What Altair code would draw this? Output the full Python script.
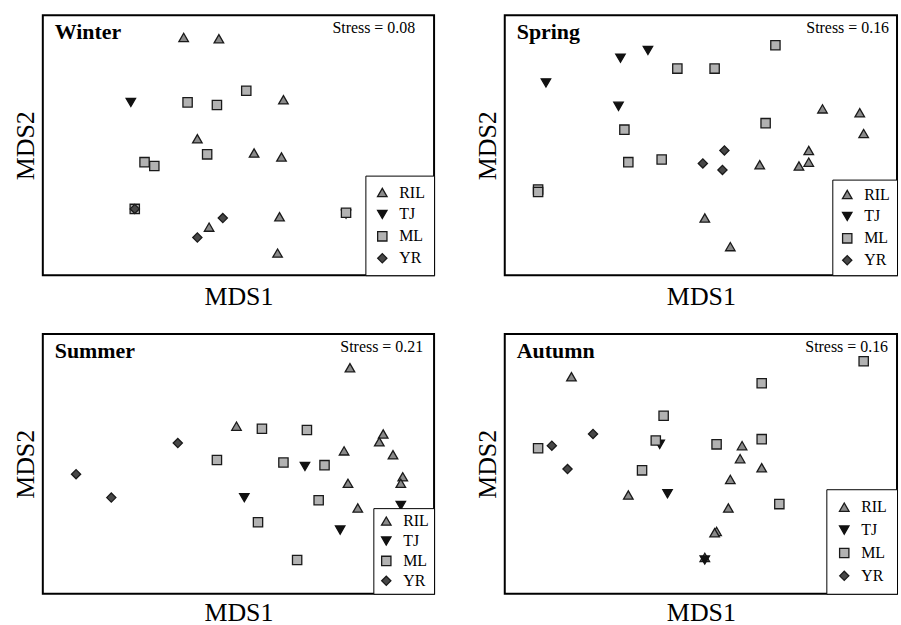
import altair as alt
import pandas as pd

SERIF = "Liberation Serif"

seasons = ["Winter", "Spring", "Summer", "Autumn"]
stress_labels = ["Stress = 0.08", "Stress = 0.16", "Stress = 0.21", "Stress = 0.16"]
groups = ["RIL", "TJ", "ML", "YR"]

# NMDS scores (MDS1, MDS2)
winter_ril = [(-0.28, 0.83), (-0.10, 0.82), (0.23, 0.35), (-0.21, 0.05), (0.08, -0.06),
              (0.22, -0.09), (0.21, -0.55), (-0.15, -0.63), (0.20, -0.83)]
winter_tj = [(-0.55, 0.33), (0.55, -0.53)]
winter_ml = [(0.04, 0.42), (-0.26, 0.33), (-0.11, 0.31), (-0.16, -0.07), (-0.48, -0.13),
             (-0.43, -0.16), (-0.53, -0.49), (0.55, -0.52)]
winter_yr = [(-0.53, -0.49), (-0.08, -0.56), (-0.21, -0.71)]

spring_ril = [(0.62, 0.28), (0.81, 0.25), (0.83, 0.09), (0.55, -0.04), (0.30, -0.15),
              (0.50, -0.16), (0.55, -0.13), (0.02, -0.56), (0.15, -0.78)]
spring_tj = [(-0.79, 0.48), (-0.41, 0.67), (-0.27, 0.73), (-0.42, 0.30)]
spring_ml = [(0.38, 0.77), (-0.12, 0.59), (0.07, 0.59), (0.33, 0.17), (-0.39, 0.12),
             (-0.37, -0.13), (-0.20, -0.11), (-0.83, -0.34), (-0.83, -0.36)]
spring_yr = [(0.12, -0.04), (0.01, -0.14), (0.11, -0.19)]

summer_ril = [(0.57, 0.74), (-0.01, 0.29), (0.74, 0.23), (0.72, 0.17), (0.54, 0.10),
              (0.79, 0.07), (0.84, -0.10), (0.83, -0.15), (0.56, -0.15), (0.61, -0.34)]
summer_tj = [(0.34, -0.02), (0.03, -0.26), (0.83, -0.32), (0.52, -0.51)]
summer_ml = [(0.12, 0.27), (0.35, 0.26), (-0.11, 0.03), (0.23, 0.01), (0.44, -0.01),
             (0.41, -0.28), (0.10, -0.45), (0.30, -0.74)]
summer_yr = [(-0.31, 0.16), (-0.83, -0.08), (-0.65, -0.26)]

autumn_ril = [(-0.66, 0.67), (0.21, 0.14), (0.20, 0.04), (0.31, -0.03), (0.15, -0.12),
              (-0.37, -0.24), (0.14, -0.34), (0.08, -0.52), (0.07, -0.53), (0.02, -0.72)]
autumn_tj = [(-0.21, 0.15), (-0.17, -0.23), (0.02, -0.74)]
autumn_ml = [(0.83, 0.79), (0.31, 0.62), (-0.19, 0.37), (-0.23, 0.18), (0.08, 0.15),
             (0.31, 0.19), (-0.83, 0.12), (-0.30, -0.05), (0.40, -0.31)]
autumn_yr = [(-0.55, 0.23), (-0.76, 0.14), (-0.68, -0.04)]

series = {
    "Winter": [winter_ril, winter_tj, winter_ml, winter_yr],
    "Spring": [spring_ril, spring_tj, spring_ml, spring_yr],
    "Summer": [summer_ril, summer_tj, summer_ml, summer_yr],
    "Autumn": [autumn_ril, autumn_tj, autumn_ml, autumn_yr],
}

rows = []
for s in seasons:
    for g, pts in zip(groups, series[s]):
        for (a, b) in pts:
            rows.append({"season": s, "group": g, "MDS1": a, "MDS2": b})
df = pd.DataFrame(rows)
labels_df = pd.DataFrame({"season": seasons, "stress": stress_labels})

shapes = ["triangle-up", "triangle-down", "square", "diamond"]
fills = ["#8a8a8a", "#111111", "#b2b2b2", "#474747"]
strokes = ["#1a1a1a", "#111111", "#1a1a1a", "#1a1a1a"]
sizes = [92, 85, 72, 55]

# per-panel: (width, stress right inset, legend padding, legend row padding, x-title padding)
panel_layout = {
    "Winter": (393, 19, 9, 6, 8),
    "Spring": (394, 8, 7, 6, 8),
    "Summer": (393, 11, 5, 4, 6),
    "Autumn": (394, 9, 10, 7, 6),
}
H = 261


def panel(season):
    w, sdx, lpad, rpad, xtp = panel_layout[season]
    base = alt.Chart(df).transform_filter(alt.datum.season == season)
    legend = alt.Legend(
        title=None, orient="bottom-right", offset=0, padding=lpad,
        strokeColor="black", fillColor="white", cornerRadius=0,
        labelFont=SERIF, labelFontSize=16, labelColor="black", labelOffset=9,
        rowPadding=rpad, symbolStrokeWidth=1.3, symbolOpacity=1,
    )
    pts = base.mark_point(filled=True, strokeWidth=1.3, opacity=1).encode(
        x=alt.X("MDS1:Q", scale=alt.Scale(domain=[-1, 1], nice=False, zero=False),
                axis=alt.Axis(title="MDS1", labels=False, ticks=False, domain=False, grid=False,
                              titlePadding=xtp, titleFont=SERIF, titleFontSize=26,
                              titleFontWeight="normal", titleColor="black")),
        y=alt.Y("MDS2:Q", scale=alt.Scale(domain=[-1, 1], nice=False, zero=False),
                axis=alt.Axis(title="MDS2", labels=False, ticks=False, domain=False, grid=False,
                              titlePadding=4, titleFont=SERIF, titleFontSize=26,
                              titleFontWeight="normal", titleColor="black")),
        shape=alt.Shape("group:N", scale=alt.Scale(domain=groups, range=shapes), legend=legend),
        fill=alt.Fill("group:N", scale=alt.Scale(domain=groups, range=fills), legend=legend),
        stroke=alt.Stroke("group:N", scale=alt.Scale(domain=groups, range=strokes), legend=legend),
        size=alt.Size("group:N", scale=alt.Scale(domain=groups, range=sizes), legend=legend),
    )
    lab = alt.Chart(labels_df).transform_filter(alt.datum.season == season)
    ttl = lab.mark_text(align="left", baseline="alphabetic", font=SERIF, fontSize=22,
                        fontWeight="bold", color="black").encode(
        x=alt.value(12), y=alt.value(24), text="season:N")
    st = lab.mark_text(align="right", baseline="alphabetic", font=SERIF, fontSize=16,
                       color="black").encode(
        x=alt.value(w - sdx), y=alt.value(18), text="stress:N")
    return alt.layer(pts, ttl, st).properties(width=w, height=H)


IND = dict(shape="independent", fill="independent", stroke="independent", size="independent")


def row(a, b):
    return alt.hconcat(panel(a), panel(b), spacing=38).resolve_scale(**IND).resolve_legend(**IND)


chart = alt.vconcat(row("Winter", "Spring"), row("Summer", "Autumn"), spacing=23).resolve_scale(
    **IND
).resolve_legend(
    **IND
).properties(
    padding={"left": 12, "top": 13, "right": 2, "bottom": 2},
).configure(
    font=SERIF, background="white"
).configure_axis(
    titleFont=SERIF, titleFontSize=26, titleFontWeight="normal", titleColor="black"
).configure_legend(
    labelFont=SERIF, labelFontSize=16, labelColor="black"
).configure_view(
    stroke="black", strokeWidth=2
)

chart.save("out.html", embed_options={"renderer": "svg", "actions": False})
